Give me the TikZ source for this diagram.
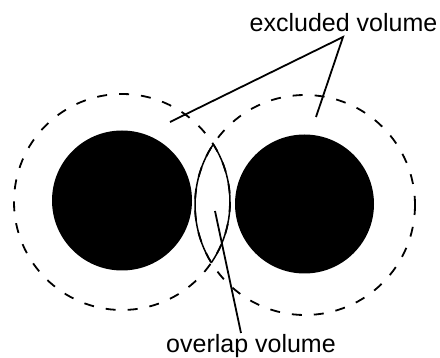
\documentclass[tikz,border=0pt]{standalone}
\usepackage{fontspec}
\setmainfont{Liberation Sans}
\begin{document}
\begin{tikzpicture}[x=1pt,y=-1pt,
  shell/.style={draw=black,line width=1.8pt,dash pattern=on 10pt off 12pt},
  core/.style={fill=black},
  lens/.style={draw=black,line width=1.5pt},
  pointer/.style={draw=black,line width=1.8pt},
  lbl/.style={font=\fontsize{25}{30}\selectfont,inner sep=0pt,anchor=base}]
\useasboundingbox (0,0) rectangle (440,358);
% centres
\coordinate (cl) at (122,202);
\coordinate (cr) at (305,205);
% cores
\fill[core] (122,200.5) circle (70);
\fill[core] (304.5,204) circle (69.5);
% excluded-volume shells
\draw[shell] (cl) circle (108);
\draw[shell] (cr) circle (110);
% overlap lens
\begin{scope}
  \clip (cl) circle (108);
  \draw[lens] (cr) circle (110);
\end{scope}
\begin{scope}
  \clip (cr) circle (110);
  \draw[lens] (cl) circle (108);
\end{scope}
% labels
\node[lbl] (ex) at (343.5,32) {excluded volume};
\node[lbl] (ov) at (251,353) {overlap volume};
% pointer lines
\coordinate (apex) at (343,37);
\coordinate (pl) at (170,122);
\coordinate (pr) at (316,117);
\coordinate (ot) at (241,333);
\coordinate (ob) at (215,211);
\draw[pointer] (pl) -- (apex) -- (pr);
\draw[pointer] (ot) -- (ob);
\end{tikzpicture}
\end{document}
